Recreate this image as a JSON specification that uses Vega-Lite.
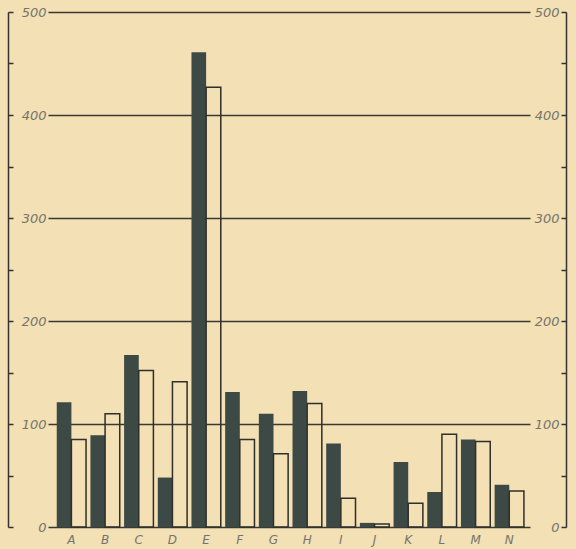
{
  "$schema": "https://vega.github.io/schema/vega-lite/v6.json",
  "width": 482,
  "height": 515,
  "autosize": {"type": "none"},
  "padding": {"left": 48, "top": 12, "right": 46, "bottom": 22},
  "background": "#f3e0b4",
  "config": {"view": {"stroke": null}, "font": "DejaVu Sans"},
  "data": {
    "values": [
      {"cat": "A", "series": "a", "value": 121}, {"cat": "A", "series": "b", "value": 85},
      {"cat": "B", "series": "a", "value": 89}, {"cat": "B", "series": "b", "value": 110},
      {"cat": "C", "series": "a", "value": 167}, {"cat": "C", "series": "b", "value": 152},
      {"cat": "D", "series": "a", "value": 48}, {"cat": "D", "series": "b", "value": 141},
      {"cat": "E", "series": "a", "value": 461}, {"cat": "E", "series": "b", "value": 427},
      {"cat": "F", "series": "a", "value": 131}, {"cat": "F", "series": "b", "value": 85},
      {"cat": "G", "series": "a", "value": 110}, {"cat": "G", "series": "b", "value": 71},
      {"cat": "H", "series": "a", "value": 132}, {"cat": "H", "series": "b", "value": 120},
      {"cat": "I", "series": "a", "value": 81}, {"cat": "I", "series": "b", "value": 28},
      {"cat": "J", "series": "a", "value": 4}, {"cat": "J", "series": "b", "value": 3},
      {"cat": "K", "series": "a", "value": 63}, {"cat": "K", "series": "b", "value": 23},
      {"cat": "L", "series": "a", "value": 34}, {"cat": "L", "series": "b", "value": 90},
      {"cat": "M", "series": "a", "value": 85}, {"cat": "M", "series": "b", "value": 83},
      {"cat": "N", "series": "a", "value": 41}, {"cat": "N", "series": "b", "value": 35}
    ]
  },
  "encoding": {
    "x": {
      "field": "cat", "type": "nominal", "sort": null,
      "scale": {"paddingInner": 0.13, "paddingOuter": 0.22, "align": 0.59},
      "axis": {"title": null, "labelAngle": 0, "domain": false, "ticks": false, "labelPadding": 7,
               "labelFont": "DejaVu Sans", "labelFontStyle": "italic", "labelFontSize": 12, "labelColor": "#75746c"}
    },
    "xOffset": {"field": "series", "type": "nominal", "scale": {"domain": ["a", "b"], "paddingInner": 0, "paddingOuter": 0}}
  },
  "layer": [
    {
      "transform": [{"filter": "datum.series == 'a'"}],
      "mark": {"type": "bar", "fill": "#3c4945"},
      "encoding": {
        "y": {
          "field": "value", "type": "quantitative",
          "scale": {"domain": [0, 500], "nice": false},
          "axis": {
            "orient": "left", "offset": 40, "title": null,
            "values": [0, 50, 100, 150, 200, 250, 300, 350, 400, 450, 500],
            "domain": true, "domainColor": "#333330", "domainWidth": 1.5,
            "ticks": true, "tickSize": -5, "tickColor": "#333330", "tickWidth": 1.5,
            "labelAlign": "right", "labelBaseline": "middle", "labelPadding": -33,
            "labelExpr": "datum.value % 100 == 0 ? datum.label : ''",
            "labelFont": "DejaVu Sans", "labelFontStyle": "italic", "labelFontSize": 13, "labelColor": "#75746c",
            "labelOverlap": false,
            "grid": true, "gridColor": "#3a3a35", "gridWidth": 1.5,
            "gridOpacity": {"condition": {"test": "datum.value % 100 == 0", "value": 1}, "value": 0}
          }
        }
      }
    },
    {
      "transform": [{"filter": "datum.series == 'b'"}],
      "mark": {"type": "bar", "fill": "transparent", "stroke": "#2f2f2b", "strokeWidth": 1.5},
      "encoding": {
        "y": {
          "field": "value", "type": "quantitative",
          "scale": {"domain": [0, 500], "nice": false},
          "axis": {
            "orient": "right", "offset": 36, "title": null,
            "values": [0, 50, 100, 150, 200, 250, 300, 350, 400, 450, 500],
            "domain": true, "domainColor": "#333330", "domainWidth": 1.5,
            "ticks": true, "tickSize": -5, "tickColor": "#333330", "tickWidth": 1.5,
            "labelAlign": "right", "labelBaseline": "middle", "labelPadding": -2,
            "labelExpr": "datum.value % 100 == 0 ? datum.label : ''",
            "labelFont": "DejaVu Sans", "labelFontStyle": "italic", "labelFontSize": 13, "labelColor": "#75746c",
            "labelOverlap": false,
            "grid": false
          }
        }
      }
    }
  ],
  "resolve": {"axis": {"y": "independent"}}
}
